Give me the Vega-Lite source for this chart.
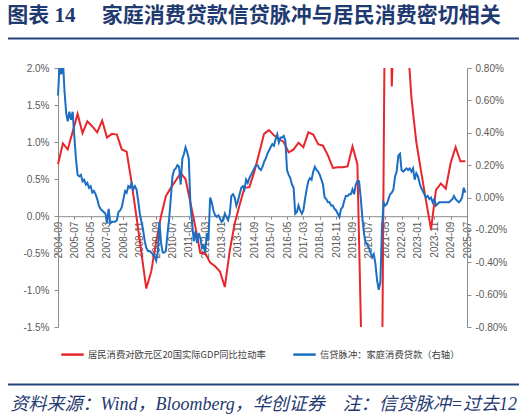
{
  "$schema": "https://vega.github.io/schema/vega-lite/v6.json",
  "background": "white",
  "padding": 5,
  "width": 511,
  "height": 259,
  "title": {"text": "图表 14\u3000 家庭消费贷款信贷脉冲与居民消费密切相关", "anchor": "start", "frame": "bounds", "fontSize": 21, "font": "Liberation Serif, Noto Sans CJK SC", "fontWeight": "bold", "color": "#1F3A70", "offset": 11, "dx": 2},
  "config": {
    "view": {"stroke": null},
    "locale": {"number": {"decimal": ".", "thousands": ",", "grouping": [3], "currency": ["$", ""], "minus": "-"}},
    "axis": {"labelFont": "Liberation Sans", "labelColor": "#595959", "domainColor": "#8C8C8C", "tickColor": "#8C8C8C", "grid": false}
  },
  "datasets": {
    "gdp": [
      {"date": "2004-09-01", "value": 0.70}, {"date": "2004-12-01", "value": 0.98}, {"date": "2005-03-01", "value": 0.90}, {"date": "2005-06-01", "value": 1.14},
      {"date": "2005-09-01", "value": 1.38}, {"date": "2005-12-01", "value": 1.12}, {"date": "2006-03-01", "value": 1.28}, {"date": "2006-06-01", "value": 1.21},
      {"date": "2006-09-01", "value": 1.13}, {"date": "2006-12-01", "value": 1.29}, {"date": "2007-03-01", "value": 1.06}, {"date": "2007-06-01", "value": 1.11},
      {"date": "2007-09-01", "value": 1.10}, {"date": "2007-12-01", "value": 0.90}, {"date": "2008-03-01", "value": 0.87}, {"date": "2008-06-01", "value": 0.45},
      {"date": "2008-09-01", "value": -0.02}, {"date": "2008-12-01", "value": -0.50}, {"date": "2009-03-01", "value": -0.98}, {"date": "2009-06-01", "value": -0.75},
      {"date": "2009-09-01", "value": -0.35}, {"date": "2009-12-01", "value": 0.00}, {"date": "2010-03-01", "value": 0.27}, {"date": "2010-06-01", "value": 0.38},
      {"date": "2010-09-01", "value": 0.48}, {"date": "2010-12-01", "value": 0.58}, {"date": "2011-03-01", "value": 0.50}, {"date": "2011-06-01", "value": 0.18},
      {"date": "2011-09-01", "value": -0.15}, {"date": "2011-12-01", "value": -0.50}, {"date": "2012-03-01", "value": -0.50}, {"date": "2012-06-01", "value": -0.63},
      {"date": "2012-09-01", "value": -0.68}, {"date": "2012-12-01", "value": -0.75}, {"date": "2013-03-01", "value": -0.96}, {"date": "2013-06-01", "value": -0.47},
      {"date": "2013-09-01", "value": -0.10}, {"date": "2013-12-01", "value": 0.15}, {"date": "2014-03-01", "value": 0.38}, {"date": "2014-06-01", "value": 0.39},
      {"date": "2014-09-01", "value": 0.60}, {"date": "2014-12-01", "value": 0.85}, {"date": "2015-03-01", "value": 1.11}, {"date": "2015-06-01", "value": 1.16},
      {"date": "2015-09-01", "value": 1.09}, {"date": "2015-12-01", "value": 1.04}, {"date": "2016-03-01", "value": 1.00}, {"date": "2016-06-01", "value": 0.86},
      {"date": "2016-09-01", "value": 0.90}, {"date": "2016-12-01", "value": 0.99}, {"date": "2017-03-01", "value": 0.93}, {"date": "2017-06-01", "value": 1.13},
      {"date": "2017-09-01", "value": 1.10}, {"date": "2017-12-01", "value": 0.97}, {"date": "2018-03-01", "value": 0.95}, {"date": "2018-06-01", "value": 0.82},
      {"date": "2018-09-01", "value": 0.65}, {"date": "2018-12-01", "value": 0.66}, {"date": "2019-03-01", "value": 0.66}, {"date": "2019-06-01", "value": 0.67},
      {"date": "2019-09-01", "value": 0.94}, {"date": "2019-12-01", "value": 0.70}, {"date": "2020-03-01", "value": -2.3}, {"date": "2020-06-01", "value": -8.5},
      {"date": "2020-09-01", "value": -2.4}, {"date": "2020-12-01", "value": -4.0}, {"date": "2021-03-01", "value": -2.5}, {"date": "2021-06-01", "value": 6.5},
      {"date": "2021-09-01", "value": 1.75}, {"date": "2021-12-01", "value": 3.8}, {"date": "2022-03-01", "value": 4.2}, {"date": "2022-06-01", "value": 2.6},
      {"date": "2022-09-01", "value": 1.6}, {"date": "2022-12-01", "value": 1.0}, {"date": "2023-03-01", "value": 0.6}, {"date": "2023-06-01", "value": 0.2},
      {"date": "2023-09-01", "value": -0.18}, {"date": "2023-12-01", "value": 0.35}, {"date": "2024-03-01", "value": 0.44}, {"date": "2024-06-01", "value": 0.37},
      {"date": "2024-09-01", "value": 0.72}, {"date": "2024-12-01", "value": 0.93}, {"date": "2025-03-01", "value": 0.74}, {"date": "2025-06-01", "value": 0.74}
    ],
    "pulse": [
      {"date": "2004-09-01", "value": 0.63}, {"date": "2004-10-01", "value": 0.83}, {"date": "2004-11-01", "value": 0.76}, {"date": "2004-12-01", "value": 0.85},
      {"date": "2005-01-01", "value": 0.65}, {"date": "2005-02-01", "value": 0.52}, {"date": "2005-03-01", "value": 0.47}, {"date": "2005-04-01", "value": 0.53},
      {"date": "2005-05-01", "value": 0.48}, {"date": "2005-06-01", "value": 0.53}, {"date": "2005-07-01", "value": 0.38}, {"date": "2005-08-01", "value": 0.24},
      {"date": "2005-09-01", "value": 0.14}, {"date": "2005-10-01", "value": 0.13}, {"date": "2005-11-01", "value": 0.14}, {"date": "2005-12-01", "value": 0.10},
      {"date": "2006-01-01", "value": 0.11}, {"date": "2006-02-01", "value": 0.08}, {"date": "2006-03-01", "value": 0.09}, {"date": "2006-04-01", "value": 0.06},
      {"date": "2006-05-01", "value": 0.07}, {"date": "2006-06-01", "value": 0.03}, {"date": "2006-07-01", "value": 0.04}, {"date": "2006-08-01", "value": 0.02},
      {"date": "2006-09-01", "value": -0.01}, {"date": "2006-10-01", "value": -0.05}, {"date": "2006-11-01", "value": -0.07}, {"date": "2006-12-01", "value": -0.08},
      {"date": "2007-01-01", "value": -0.09}, {"date": "2007-02-01", "value": -0.10}, {"date": "2007-03-01", "value": -0.16}, {"date": "2007-04-01", "value": -0.07},
      {"date": "2007-05-01", "value": -0.16}, {"date": "2007-06-01", "value": -0.15}, {"date": "2007-07-01", "value": -0.15}, {"date": "2007-08-01", "value": -0.15},
      {"date": "2007-09-01", "value": -0.14}, {"date": "2007-10-01", "value": -0.09}, {"date": "2007-11-01", "value": -0.08}, {"date": "2007-12-01", "value": -0.06},
      {"date": "2008-01-01", "value": -0.01}, {"date": "2008-02-01", "value": 0.04}, {"date": "2008-03-01", "value": 0.03}, {"date": "2008-04-01", "value": 0.07},
      {"date": "2008-05-01", "value": 0.06}, {"date": "2008-06-01", "value": 0.09}, {"date": "2008-07-01", "value": 0.05}, {"date": "2008-08-01", "value": 0.07},
      {"date": "2008-09-01", "value": 0.05}, {"date": "2008-10-01", "value": -0.02}, {"date": "2008-11-01", "value": -0.10}, {"date": "2008-12-01", "value": -0.15},
      {"date": "2009-01-01", "value": -0.20}, {"date": "2009-02-01", "value": -0.27}, {"date": "2009-03-01", "value": -0.31}, {"date": "2009-04-01", "value": -0.33},
      {"date": "2009-05-01", "value": -0.33}, {"date": "2009-06-01", "value": -0.34}, {"date": "2009-07-01", "value": -0.35}, {"date": "2009-08-01", "value": -0.36},
      {"date": "2009-09-01", "value": -0.39}, {"date": "2009-10-01", "value": -0.34}, {"date": "2009-11-01", "value": -0.15}, {"date": "2009-12-01", "value": -0.28},
      {"date": "2010-01-01", "value": -0.34}, {"date": "2010-02-01", "value": -0.34}, {"date": "2010-03-01", "value": -0.33}, {"date": "2010-04-01", "value": -0.22},
      {"date": "2010-05-01", "value": -0.13}, {"date": "2010-06-01", "value": 0.00}, {"date": "2010-07-01", "value": 0.13}, {"date": "2010-08-01", "value": 0.17},
      {"date": "2010-09-01", "value": 0.18}, {"date": "2010-10-01", "value": 0.20}, {"date": "2010-11-01", "value": 0.19}, {"date": "2010-12-01", "value": 0.08},
      {"date": "2011-01-01", "value": 0.24}, {"date": "2011-02-01", "value": 0.27}, {"date": "2011-03-01", "value": 0.31}, {"date": "2011-04-01", "value": 0.28},
      {"date": "2011-05-01", "value": 0.24}, {"date": "2011-06-01", "value": -0.05}, {"date": "2011-07-01", "value": -0.15}, {"date": "2011-08-01", "value": -0.27},
      {"date": "2011-09-01", "value": -0.21}, {"date": "2011-10-01", "value": -0.28}, {"date": "2011-11-01", "value": -0.22}, {"date": "2011-12-01", "value": -0.25},
      {"date": "2012-01-01", "value": -0.31}, {"date": "2012-02-01", "value": -0.30}, {"date": "2012-03-01", "value": -0.34}, {"date": "2012-04-01", "value": -0.22},
      {"date": "2012-05-01", "value": -0.26}, {"date": "2012-06-01", "value": 0.00}, {"date": "2012-07-01", "value": -0.03}, {"date": "2012-08-01", "value": -0.08},
      {"date": "2012-09-01", "value": -0.11}, {"date": "2012-10-01", "value": -0.12}, {"date": "2012-11-01", "value": -0.11}, {"date": "2012-12-01", "value": -0.13},
      {"date": "2013-01-01", "value": -0.15}, {"date": "2013-02-01", "value": -0.14}, {"date": "2013-03-01", "value": -0.10}, {"date": "2013-04-01", "value": -0.12},
      {"date": "2013-05-01", "value": -0.14}, {"date": "2013-06-01", "value": -0.10}, {"date": "2013-07-01", "value": 0.01}, {"date": "2013-08-01", "value": 0.02},
      {"date": "2013-09-01", "value": 0.00}, {"date": "2013-10-01", "value": -0.05}, {"date": "2013-11-01", "value": -0.02}, {"date": "2013-12-01", "value": 0.02},
      {"date": "2014-01-01", "value": 0.06}, {"date": "2014-02-01", "value": 0.07}, {"date": "2014-03-01", "value": 0.05}, {"date": "2014-04-01", "value": 0.11},
      {"date": "2014-05-01", "value": 0.09}, {"date": "2014-06-01", "value": 0.12}, {"date": "2014-07-01", "value": 0.14}, {"date": "2014-08-01", "value": 0.16},
      {"date": "2014-09-01", "value": 0.18}, {"date": "2014-10-01", "value": 0.20}, {"date": "2014-11-01", "value": 0.20}, {"date": "2014-12-01", "value": 0.18},
      {"date": "2015-01-01", "value": 0.17}, {"date": "2015-02-01", "value": 0.19}, {"date": "2015-03-01", "value": 0.22}, {"date": "2015-04-01", "value": 0.24},
      {"date": "2015-05-01", "value": 0.27}, {"date": "2015-06-01", "value": 0.29}, {"date": "2015-07-01", "value": 0.31}, {"date": "2015-08-01", "value": 0.33},
      {"date": "2015-09-01", "value": 0.32}, {"date": "2015-10-01", "value": 0.36}, {"date": "2015-11-01", "value": 0.39}, {"date": "2015-12-01", "value": 0.34},
      {"date": "2016-01-01", "value": 0.37}, {"date": "2016-02-01", "value": 0.37}, {"date": "2016-03-01", "value": 0.38}, {"date": "2016-04-01", "value": 0.35},
      {"date": "2016-05-01", "value": 0.17}, {"date": "2016-06-01", "value": 0.14}, {"date": "2016-07-01", "value": 0.12}, {"date": "2016-08-01", "value": 0.08},
      {"date": "2016-09-01", "value": 0.06}, {"date": "2016-10-01", "value": -0.10}, {"date": "2016-11-01", "value": -0.09}, {"date": "2016-12-01", "value": -0.05},
      {"date": "2017-01-01", "value": -0.08}, {"date": "2017-02-01", "value": -0.10}, {"date": "2017-03-01", "value": -0.08}, {"date": "2017-04-01", "value": -0.01},
      {"date": "2017-05-01", "value": 0.05}, {"date": "2017-06-01", "value": 0.10}, {"date": "2017-07-01", "value": 0.12}, {"date": "2017-08-01", "value": 0.11},
      {"date": "2017-09-01", "value": 0.16}, {"date": "2017-10-01", "value": 0.19}, {"date": "2017-11-01", "value": 0.17}, {"date": "2017-12-01", "value": 0.16},
      {"date": "2018-01-01", "value": 0.14}, {"date": "2018-02-01", "value": 0.11}, {"date": "2018-03-01", "value": 0.08}, {"date": "2018-04-01", "value": 0.00},
      {"date": "2018-05-01", "value": -0.01}, {"date": "2018-06-01", "value": -0.03}, {"date": "2018-07-01", "value": -0.03}, {"date": "2018-08-01", "value": -0.05},
      {"date": "2018-09-01", "value": -0.05}, {"date": "2018-10-01", "value": -0.07}, {"date": "2018-11-01", "value": -0.08}, {"date": "2018-12-01", "value": -0.10},
      {"date": "2019-01-01", "value": -0.12}, {"date": "2019-02-01", "value": -0.07}, {"date": "2019-03-01", "value": -0.06}, {"date": "2019-04-01", "value": -0.02},
      {"date": "2019-05-01", "value": 0.01}, {"date": "2019-06-01", "value": 0.01}, {"date": "2019-07-01", "value": 0.02}, {"date": "2019-08-01", "value": 0.02},
      {"date": "2019-09-01", "value": 0.05}, {"date": "2019-10-01", "value": 0.02}, {"date": "2019-11-01", "value": 0.08}, {"date": "2019-12-01", "value": 0.10},
      {"date": "2020-01-01", "value": 0.10}, {"date": "2020-02-01", "value": 0.00}, {"date": "2020-03-01", "value": -0.12}, {"date": "2020-04-01", "value": -0.22},
      {"date": "2020-05-01", "value": -0.28}, {"date": "2020-06-01", "value": -0.29}, {"date": "2020-07-01", "value": -0.31}, {"date": "2020-08-01", "value": -0.34},
      {"date": "2020-09-01", "value": -0.37}, {"date": "2020-10-01", "value": -0.35}, {"date": "2020-11-01", "value": -0.41}, {"date": "2020-12-01", "value": -0.51},
      {"date": "2021-01-01", "value": -0.57}, {"date": "2021-02-01", "value": -0.52}, {"date": "2021-03-01", "value": -0.20}, {"date": "2021-04-01", "value": -0.03},
      {"date": "2021-05-01", "value": -0.05}, {"date": "2021-06-01", "value": -0.04}, {"date": "2021-07-01", "value": -0.01}, {"date": "2021-08-01", "value": 0.02},
      {"date": "2021-09-01", "value": 0.03}, {"date": "2021-10-01", "value": 0.05}, {"date": "2021-11-01", "value": 0.13}, {"date": "2021-12-01", "value": 0.16},
      {"date": "2022-01-01", "value": 0.26}, {"date": "2022-02-01", "value": 0.27}, {"date": "2022-03-01", "value": 0.17}, {"date": "2022-04-01", "value": 0.16},
      {"date": "2022-05-01", "value": 0.17}, {"date": "2022-06-01", "value": 0.18}, {"date": "2022-07-01", "value": 0.17}, {"date": "2022-08-01", "value": 0.18},
      {"date": "2022-09-01", "value": 0.16}, {"date": "2022-10-01", "value": 0.18}, {"date": "2022-11-01", "value": 0.11}, {"date": "2022-12-01", "value": 0.15},
      {"date": "2023-01-01", "value": 0.13}, {"date": "2023-02-01", "value": 0.09}, {"date": "2023-03-01", "value": 0.06}, {"date": "2023-04-01", "value": 0.04},
      {"date": "2023-05-01", "value": 0.02}, {"date": "2023-06-01", "value": 0.00}, {"date": "2023-07-01", "value": 0.01}, {"date": "2023-08-01", "value": -0.01},
      {"date": "2023-09-01", "value": 0.00}, {"date": "2023-10-01", "value": -0.03}, {"date": "2023-11-01", "value": -0.01}, {"date": "2023-12-01", "value": -0.05},
      {"date": "2024-01-01", "value": -0.04}, {"date": "2024-02-01", "value": -0.03}, {"date": "2024-03-01", "value": -0.03}, {"date": "2024-04-01", "value": -0.03},
      {"date": "2024-05-01", "value": -0.03}, {"date": "2024-06-01", "value": -0.03}, {"date": "2024-07-01", "value": -0.03}, {"date": "2024-08-01", "value": -0.03},
      {"date": "2024-09-01", "value": -0.02}, {"date": "2024-10-01", "value": -0.01}, {"date": "2024-11-01", "value": 0.01}, {"date": "2024-12-01", "value": -0.01},
      {"date": "2025-01-01", "value": -0.02}, {"date": "2025-02-01", "value": -0.03}, {"date": "2025-03-01", "value": -0.02}, {"date": "2025-04-01", "value": 0.00},
      {"date": "2025-05-01", "value": 0.06}, {"date": "2025-06-01", "value": 0.03}
    ],
    "divider": [{"pos": 0}, {"pos": 1}],
    "separators": [{"edge": 1.114}, {"edge": -0.222}]
  },
  "layer": [
    {
      "data": {"name": "gdp"},
      "mark": {"type": "line", "clip": true, "strokeWidth": 2},
      "encoding": {
        "x": {
          "field": "date", "type": "temporal",
          "scale": {"type": "utc", "nice": false, "range": [50, 459], "domain": [{"year": 2004, "month": 9, "date": 1, "utc": true}, {"year": 2025, "month": 7, "date": 1, "utc": true}]},
          "axis": {
            "title": null, "orient": "bottom", "offset": -110.8, "format": "%Y-%m", "labelAngle": -90,
            "labelFontSize": 10, "labelPadding": 2, "tickSize": 3, "labelOverlap": false, "labelFlush": false, "tickCount": 40,
            "values": [
              {"year": 2004, "month": 9, "date": 1, "utc": true}, {"year": 2005, "month": 7, "date": 1, "utc": true}, {"year": 2006, "month": 5, "date": 1, "utc": true},
              {"year": 2007, "month": 3, "date": 1, "utc": true}, {"year": 2008, "month": 1, "date": 1, "utc": true}, {"year": 2008, "month": 11, "date": 1, "utc": true},
              {"year": 2009, "month": 9, "date": 1, "utc": true}, {"year": 2010, "month": 7, "date": 1, "utc": true}, {"year": 2011, "month": 5, "date": 1, "utc": true},
              {"year": 2012, "month": 3, "date": 1, "utc": true}, {"year": 2013, "month": 1, "date": 1, "utc": true}, {"year": 2013, "month": 11, "date": 1, "utc": true},
              {"year": 2014, "month": 9, "date": 1, "utc": true}, {"year": 2015, "month": 7, "date": 1, "utc": true}, {"year": 2016, "month": 5, "date": 1, "utc": true},
              {"year": 2017, "month": 3, "date": 1, "utc": true}, {"year": 2018, "month": 1, "date": 1, "utc": true}, {"year": 2018, "month": 11, "date": 1, "utc": true},
              {"year": 2019, "month": 9, "date": 1, "utc": true}, {"year": 2020, "month": 7, "date": 1, "utc": true}, {"year": 2021, "month": 5, "date": 1, "utc": true},
              {"year": 2022, "month": 3, "date": 1, "utc": true}, {"year": 2023, "month": 1, "date": 1, "utc": true}, {"year": 2023, "month": 11, "date": 1, "utc": true},
              {"year": 2024, "month": 9, "date": 1, "utc": true}, {"year": 2025, "month": 7, "date": 1, "utc": true}
            ]
          }
        },
        "y": {
          "field": "value", "type": "quantitative",
          "scale": {"domain": [-1.5, 2.0], "nice": false, "zero": false},
          "axis": {
            "orient": "left", "title": null, "offset": -50, "values": [-1.5, -1.0, -0.5, 0, 0.5, 1.0, 1.5, 2.0],
            "labelExpr": "replace(format(datum.value, '.1f'), '\u2212', '-') + '%'",
            "labelFontSize": 10, "tickSize": 4, "labelPadding": 5
          }
        },
        "color": {
          "datum": "居民消费对欧元区20国实际GDP同比拉动率", "type": "nominal",
          "scale": {"domain": ["居民消费对欧元区20国实际GDP同比拉动率", "信贷脉冲：家庭消费贷款（右轴）"], "range": ["#E8262B", "#1B6EC2"]},
          "legend": {
            "title": null, "orient": "none", "legendX": 48, "legendY": 270, "direction": "horizontal", "padding": 4,
            "symbolType": "stroke", "symbolStrokeWidth": 2.5, "symbolSize": 500,
            "labelFont": "Noto Sans CJK SC", "labelFontSize": 9.3, "labelColor": "#404040", "labelLimit": 400,
            "labelOffset": 3, "columnPadding": 22
          }
        }
      }
    },
    {
      "data": {"name": "pulse"},
      "mark": {"type": "line", "clip": true, "strokeWidth": 2},
      "encoding": {
        "x": {
          "field": "date", "type": "temporal", "axis": null,
          "scale": {"type": "utc", "nice": false, "range": [50, 459], "domain": [{"year": 2004, "month": 9, "date": 1, "utc": true}, {"year": 2025, "month": 7, "date": 1, "utc": true}]}
        },
        "y": {
          "field": "value", "type": "quantitative",
          "scale": {"domain": [-0.8, 0.8], "nice": false, "zero": false},
          "axis": {
            "orient": "right", "title": null, "offset": -52, "values": [-0.8, -0.6, -0.4, -0.2, 0, 0.2, 0.4, 0.6, 0.8],
            "labelExpr": "replace(format(datum.value, '.2f'), '\u2212', '-') + '%'",
            "labelFontSize": 10, "tickSize": 4, "labelPadding": 4
          }
        },
        "color": {"datum": "信贷脉冲：家庭消费贷款（右轴）", "type": "nominal"}
      }
    },
    {
      "data": {"name": "separators"},
      "mark": {"type": "rule", "color": "#24427C", "strokeWidth": 2, "clip": false},
      "encoding": {
        "y": {"field": "edge", "type": "quantitative", "scale": {"domain": [0, 1], "nice": false, "zero": false}, "axis": null}
      }
    },
    {
      "data": {"name": "divider"},
      "mark": {"type": "point", "opacity": 0},
      "encoding": {
        "x": {
          "field": "pos", "type": "quantitative",
          "scale": {"domain": [0, 1], "nice": false, "zero": false},
          "axis": {"orient": "top", "offset": 29.5, "title": null, "labels": false, "ticks": false, "domain": false}
        }
      }
    },
    {
      "data": {"name": "divider"},
      "mark": {"type": "point", "opacity": 0},
      "encoding": {
        "x": {
          "field": "pos", "type": "quantitative",
          "scale": {"domain": [0, 1], "nice": false, "zero": false},
          "axis": {
            "orient": "bottom", "offset": 57.5, "labels": false, "ticks": false, "domain": false,
            "title": "资料来源：Wind，Bloomberg，华创证券\u3000注：信贷脉冲=过去12",
            "titleAnchor": "start", "titleAlign": "left", "titlePadding": 11, "titleLimit": 700, "titleX": 2,
            "titleFont": "Liberation Serif, Noto Sans CJK SC", "titleFontSize": 18, "titleFontStyle": "italic", "titleFontWeight": "normal", "titleColor": "#1F3A70"
          }
        }
      }
    }
  ],
  "resolve": {"scale": {"x": "independent", "y": "independent"}, "axis": {"x": "independent", "y": "independent"}}
}
